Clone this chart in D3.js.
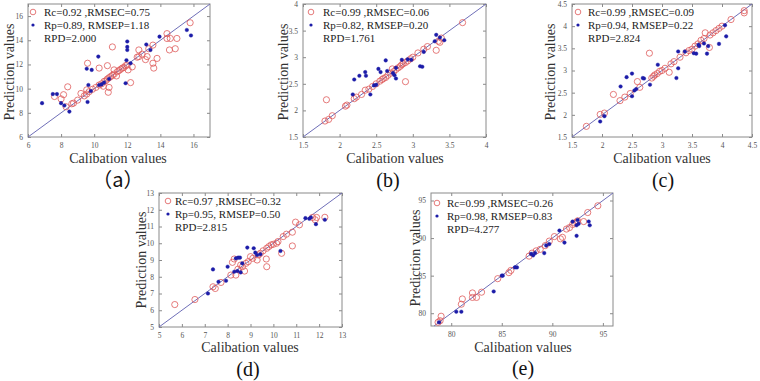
<!DOCTYPE html>
<html><head><meta charset="utf-8">
<script src="https://cdn.jsdelivr.net/npm/d3@7"></script>
<style>
body{margin:0;background:#fff;}
svg{display:block;}
text{font-family:"Liberation Serif","Times New Roman",serif;}
</style></head>
<body>
<svg id="chart" width="760" height="381"></svg>
<script>
// ---------- data ----------
const calA = [[7.6,9.35],[8.0,9.15],[8.15,9.5],[8.4,10.15],[8.3,8.5],[8.65,8.75],[8.75,8.8],[9.0,9.05],[9.2,9.6],[9.4,9.4],[9.55,9.9],[9.6,12.1],[9.55,9.55],[9.7,9.75],[9.9,9.95],[10.1,10.1],[10.3,11.7],[10.3,10.3],[10.45,10.4],[10.55,10.2],[10.6,10.6],[10.7,10.65],[10.8,11.9],[10.8,10.8],[10.85,9.7],[10.9,10.1],[10.9,10.9],[11.0,11.0],[11.1,13.45],[11.1,11.1],[11.2,11.55],[11.2,11.2],[11.35,11.05],[11.4,11.4],[11.5,11.5],[11.6,11.6],[11.7,11.7],[11.8,11.75],[11.9,11.9],[12.0,11.95],[12.05,11.55],[12.2,10.5],[12.3,11.8],[12.6,12.6],[12.7,13.2],[12.7,12.65],[12.9,12.85],[13.1,12.4],[13.2,12.65],[13.3,13.3],[13.55,12.1],[13.6,11.7],[13.55,13.6],[13.8,12.5],[14.4,14.15],[14.4,14.55],[14.55,13.2],[14.6,14.15],[14.9,13.3],[15.0,14.15],[15.8,15.45]];
const predA = [[6.85,8.8],[7.5,9.55],[7.75,9.55],[8.0,8.8],[8.2,8.6],[8.5,8.1],[9.55,11.65],[9.85,11.55],[9.6,8.9],[9.65,10.3],[9.8,9.8],[10.25,12.65],[10.3,10.3],[10.45,10.35],[10.6,10.5],[10.9,10.8],[11.9,10.45],[12.0,13.9],[12.0,13.45],[12.0,13.2],[11.95,12.35],[12.2,12.1],[13.15,13.65],[13.4,13.2],[13.95,14.3],[15.6,14.85],[15.85,14.4]];

const calB = [[1.8,1.8],[1.85,1.83],[1.9,1.9],[1.82,2.2],[2.08,2.08],[2.1,2.1],[2.2,2.22],[2.23,2.25],[2.3,2.3],[2.35,2.38],[2.4,2.4],[2.45,2.45],[2.5,2.5],[2.55,2.55],[2.58,2.58],[2.6,2.6],[2.63,2.62],[2.66,2.66],[2.7,2.7],[2.72,2.78],[2.74,2.73],[2.77,2.77],[2.8,2.8],[2.83,2.83],[2.85,2.86],[2.87,2.88],[2.9,2.9],[2.9,2.54],[2.93,2.93],[2.97,2.97],[3.0,3.0],[3.07,3.08],[3.15,3.15],[3.2,3.2],[3.32,3.13],[3.35,3.3],[3.37,3.28],[3.39,3.36],[3.68,3.65]];
const predB = [[2.18,2.3],[2.2,2.58],[2.27,2.65],[2.35,2.72],[2.36,2.65],[2.42,2.3],[2.47,2.47],[2.5,2.48],[2.53,2.78],[2.56,2.72],[2.63,2.94],[2.65,2.74],[2.73,2.7],[2.75,2.66],[2.77,2.6],[2.77,2.8],[2.85,2.95],[2.93,2.96],[2.98,2.95],[3.1,2.83],[3.13,2.82],[3.15,3.1],[3.3,3.3],[3.32,3.42],[3.37,3.37],[3.43,3.32]];

const calC = [[1.74,1.74],[1.97,2.01],[2.04,2.04],[2.19,2.46],[2.3,2.32],[2.38,2.4],[2.47,2.48],[2.59,2.75],[2.63,2.62],[2.79,3.39],[2.83,2.83],[2.86,2.87],[2.88,2.9],[2.92,2.93],[2.96,2.98],[3.0,3.0],[3.05,3.05],[3.12,2.96],[3.15,3.15],[3.2,3.2],[3.3,3.3],[3.4,3.4],[3.45,3.45],[3.5,3.48],[3.55,3.55],[3.6,3.6],[3.65,3.68],[3.7,3.72],[3.72,3.85],[3.79,3.52],[3.8,3.8],[3.85,3.85],[3.9,3.9],[3.95,3.95],[4.0,4.0],[4.15,4.15],[4.37,4.35],[4.37,4.3]];
const predC = [[1.97,1.85],[2.04,1.97],[2.31,2.64],[2.41,2.85],[2.5,2.93],[2.5,2.42],[2.54,2.55],[2.57,2.58],[2.68,2.83],[2.7,2.82],[2.8,2.68],[2.93,3.13],[3.24,2.83],[3.27,3.05],[3.27,3.43],[3.38,3.43],[3.53,3.39],[3.57,3.38],[3.61,3.58],[3.62,3.55],[3.7,3.61],[3.75,3.38],[3.77,3.55],[3.95,3.6],[4.07,3.77],[4.05,4.02]];

const calD = [[5.69,6.34],[6.57,6.64],[7.36,7.4],[7.46,7.3],[7.71,7.66],[8.14,8.1],[8.29,9.06],[8.21,8.86],[8.36,8.1],[8.45,8.45],[8.57,8.7],[8.65,8.6],[8.74,8.34],[8.8,8.8],[8.9,8.9],[9.0,9.2],[9.1,9.1],[9.29,9.0],[9.35,9.3],[9.43,9.4],[9.55,9.55],[9.69,9.06],[9.71,8.6],[9.71,9.7],[9.8,9.8],[9.9,9.9],[10.0,9.94],[10.14,10.0],[10.2,10.1],[10.36,9.4],[10.43,10.4],[10.57,10.54],[10.83,9.84],[10.83,10.66],[10.97,11.26],[11.14,11.1],[11.71,11.54],[11.83,11.4],[11.89,11.54],[12.25,11.55]];
const predD = [[7.14,7.0],[7.36,8.44],[7.6,7.7],[7.93,7.76],[8.0,8.6],[8.36,9.1],[8.46,9.14],[8.54,9.14],[8.29,8.3],[8.43,8.34],[8.57,8.26],[8.64,8.8],[8.86,9.74],[9.14,9.7],[9.21,9.44],[9.29,9.3],[9.43,9.34],[10.31,9.54],[11.4,11.5],[11.57,11.46],[11.64,11.54],[11.86,11.14],[12.25,11.4]];

const calE = [[78.7,78.8],[78.9,79.0],[79.0,79.6],[81.0,81.2],[81.1,81.9],[82.1,82.7],[82.1,82.1],[82.5,82.1],[83.0,82.8],[84.6,84.6],[85.7,85.4],[85.9,85.7],[87.7,87.6],[88.0,88.0],[88.4,88.3],[88.8,88.5],[89.3,89.0],[89.7,89.6],[90.2,90.2],[90.8,89.9],[91.0,90.1],[91.4,91.2],[91.7,91.4],[92.0,91.8],[92.2,92.0],[92.4,92.1],[92.5,92.3],[93.1,92.2],[93.5,93.4],[94.5,94.3]];
const predE = [[78.8,78.8],[80.5,80.2],[81.0,80.2],[84.2,82.9],[85.0,85.0],[85.1,85.0],[86.3,86.1],[86.5,86.1],[87.9,87.9],[88.1,87.7],[88.3,88.0],[89.2,88.0],[89.4,89.0],[89.7,89.2],[90.7,91.0],[91.2,89.4],[92.0,92.2],[92.4,91.7],[92.4,90.3],[92.5,92.4],[92.6,91.9],[93.6,92.2],[93.7,91.7]];

const statsA = ["Rc=0.92 ,RMSEC=0.75","Rp=0.89, RMSEP=1.18","RPD=2.000"];
const statsB = ["Rc=0.99 ,RMSEC=0.06","Rp=0.82, RMSEP=0.20","RPD=1.761"];
const statsC = ["Rc=0.99 ,RMSEC=0.09","Rp=0.94, RMSEP=0.22","RPD=2.824"];
const statsD = ["Rc=0.97 ,RMSEC=0.32","Rp=0.95, RMSEP=0.50","RPD=2.815"];
const statsE = ["Rc=0.99 ,RMSEC=0.26","Rp=0.98, RMSEP=0.83","RPD=4.277"];

const ticksA = [6,8,10,12,14,16];
const ticksB = [1.5,2,2.5,3,3.5,4];
const ticksC = [1.5,2,2.5,3,3.5,4,4.5];
const ticksD = [5,6,7,8,9,10,11,12,13];
const ticksE = [80,85,90,95];

const captions = ["（a）","(b)","(c)","(d)","(e)"];
const xTitle = "Calibation values";
const yTitle = "Prediction values";

// ---------- layout ----------
const panels = [
  {cal:calA,pred:predA,stats:statsA,ticks:ticksA,xd:[6,17],yd:[6,17],L:28,R:210,T:4,B:137,ylx:9,yly:72,xlx:118,xly:163,cx:118,cy:187,lm:33,lt:44,ly:12},
  {cal:calB,pred:predB,stats:statsB,ticks:ticksB,xd:[1.5,4],yd:[1.5,4],L:303,R:486,T:4,B:137,ylx:283,yly:72,xlx:395,xly:163,cx:388,cy:187,lm:311,lt:323,ly:12},
  {cal:calC,pred:predC,stats:statsC,ticks:ticksC,xd:[1.5,4.5],yd:[1.5,4.5],L:572,R:752,T:4,B:137,ylx:550,yly:72,xlx:662,xly:163,cx:663,cy:187,lm:578,lt:588,ly:12},
  {cal:calD,pred:predD,stats:statsD,ticks:ticksD,xd:[5,13],yd:[5,13],L:159,R:342,T:193,B:327,ylx:141,yly:260,xlx:250,xly:352,cx:248,cy:376,lm:168,lt:175,ly:201},
  {cal:calE,pred:predE,stats:statsE,ticks:ticksE,xd:[78,96],yd:[78.3,96],L:431,R:613,T:193,B:326,ylx:415,yly:258,xlx:523,xly:352,cx:523,cy:375,lm:437,lt:447,ly:203}
];

const RED = "#de5a5a", BLUE = "#1c1ca8", DIAG = "#6f6fb8";
const svg = d3.select("#chart");

panels.forEach((p,i)=>{
  const x = d3.scaleLinear().domain(p.xd).range([p.L,p.R]);
  const y = d3.scaleLinear().domain(p.yd).range([p.B,p.T]);
  const g = svg.append("g");

  // frame
  g.append("rect").attr("x",p.L).attr("y",p.T).attr("width",p.R-p.L).attr("height",p.B-p.T)
    .attr("fill","#fff").attr("stroke","#8a8a8a").attr("stroke-width",1);

  // axes (inward ticks)
  const fmt = d => String(d);
  const ax = g.append("g").attr("transform",`translate(0,${p.B})`)
    .call(d3.axisBottom(x).tickValues(p.ticks).tickSize(-3).tickPadding(6).tickFormat(fmt));
  const ay = g.append("g").attr("transform",`translate(${p.L},0)`)
    .call(d3.axisLeft(y).tickValues(p.ticks).tickSize(-3).tickPadding(5).tickFormat(fmt));
  const axT = g.append("g").attr("transform",`translate(0,${p.T})`)
    .call(d3.axisTop(x).tickValues(p.ticks).tickSize(-3).tickFormat(""));
  const ayR = g.append("g").attr("transform",`translate(${p.R},0)`)
    .call(d3.axisRight(y).tickValues(p.ticks).tickSize(-3).tickFormat(""));
  [ax,ay,axT,ayR].forEach(a=>{
    a.select(".domain").remove();
    a.selectAll("line").attr("stroke","#8a8a8a");
    a.selectAll("text").attr("fill","#555").style("font-size","7.5px")
      .style("font-family","'Liberation Serif',serif");
  });

  // diagonal y = x
  const lo = Math.max(p.xd[0],p.yd[0]), hi = Math.min(p.xd[1],p.yd[1]);
  g.append("line").attr("x1",x(lo)).attr("y1",y(lo)).attr("x2",x(hi)).attr("y2",y(hi))
    .attr("stroke",DIAG).attr("stroke-width",1);

  // calibration points
  g.append("g").selectAll("circle").data(p.cal).join("circle")
    .attr("cx",d=>x(d[0])).attr("cy",d=>y(d[1])).attr("r",3.1)
    .attr("fill","none").attr("stroke",RED).attr("stroke-width",0.8);
  // prediction points
  g.append("g").selectAll("circle").data(p.pred).join("circle")
    .attr("cx",d=>x(d[0])).attr("cy",d=>y(d[1])).attr("r",1.8)
    .attr("fill",BLUE).attr("stroke",BLUE).attr("stroke-width",0.4);

  // legend
  const lh = 13;
  g.append("circle").attr("cx",p.lm).attr("cy",p.ly).attr("r",2.8)
    .attr("fill","none").attr("stroke",RED).attr("stroke-width",0.8);
  g.append("circle").attr("cx",p.lm).attr("cy",p.ly+lh).attr("r",1.6).attr("fill",BLUE);
  p.stats.forEach((s,k)=>{
    g.append("text").attr("x",p.lt).attr("y",p.ly+k*lh).attr("dy","0.35em")
      .attr("fill","#222").style("font-size","11px").text(s);
  });

  // titles
  g.append("text").attr("x",p.xlx).attr("y",p.xly).attr("text-anchor","middle")
    .attr("fill","#333").style("font-size","14px").text(xTitle);
  g.append("text").attr("transform",`translate(${p.ylx},${p.yly}) rotate(-90)`)
    .attr("text-anchor","middle").attr("dy","0.35em")
    .attr("fill","#333").style("font-size","14px").text(yTitle);
  g.append("text").attr("x",p.cx).attr("y",p.cy).attr("text-anchor","middle")
    .attr("fill","#111").style("font-size","20px")
    .style("font-family", i===0 ? "'Noto Sans CJK SC','Liberation Serif',serif" : "'Liberation Serif',serif")
    .text(captions[i]);
});
</script>
</body></html>
